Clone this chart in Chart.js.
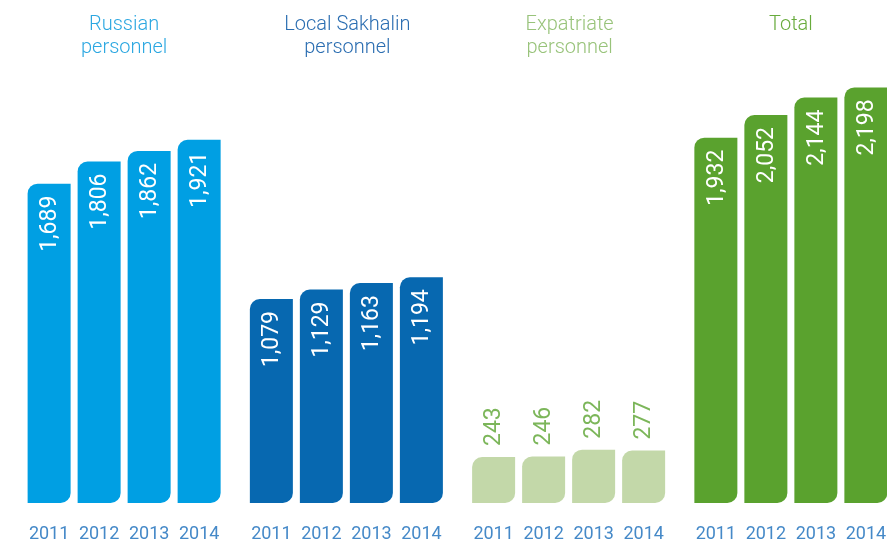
<!DOCTYPE html>
<html lang="en">
<head>
    <meta charset="UTF-8">
    <title>Personnel by category</title>
    <script src="https://cdn.jsdelivr.net/npm/chart.js@4/dist/chart.umd.min.js"></script>
    <style>
        html, body {
            margin: 0;
            padding: 0;
            background: #fff;
            overflow: hidden;
        }
        .chart-box {
            width: 902px;
            height: 546px;
        }
    </style>
</head>
<body>
    <div class="chart-box">
        <canvas id="staffChart" width="902" height="546"></canvas>
    </div>

    <script>
        // data
        const groups = ['Russian personnel', 'Local Sakhalin personnel', 'Expatriate personnel', 'Total'];
        const groupTitles = [['Russian', 'personnel'], ['Local Sakhalin', 'personnel'], ['Expatriate', 'personnel'], ['Total']];
        const years = ['2011', '2012', '2013', '2014'];
        const russian = [1689, 1806, 1862, 1921];
        const localSakhalin = [1079, 1129, 1163, 1194];
        const expatriate = [243, 246, 282, 277];
        const total = [1932, 2052, 2144, 2198];

        const barColors = ['#009fe3', '#0768b0', '#c3d8a9', '#5aa22e'];
        const titleColors = ['#2ba7e1', '#2a6db1', '#98c37a', '#68ab3c'];

        const series = [russian, localSakhalin, expatriate, total];

        // one dataset per year, one category per group
        const datasets = years.map((yr, i) => ({
            label: yr,
            data: series.map(s => s[i]),
            backgroundColor: ctx => barColors[ctx.dataIndex],
            borderRadius: { topLeft: 10, bottomRight: 10, topRight: 0, bottomLeft: 0 },
            borderSkipped: false,
            categoryPercentage: 0.9,
            barPercentage: 0.86
        }));

        const labelPlugin = {
            id: 'labels',
            afterDatasetsDraw(chart) {
                const ctx = chart.ctx;
                const x = chart.scales.x;
                ctx.save();

                // group titles
                ctx.textAlign = 'center';
                ctx.textBaseline = 'middle';
                ctx.font = '300 20px Roboto';
                groupTitles.forEach((lines, g) => {
                    ctx.fillStyle = titleColors[g];
                    const cx = x.getPixelForValue(g) + (g === 1 || g === 2 ? 1 : 0);
                    lines.forEach((line, k) => ctx.fillText(line, cx, 25 + k * 23));
                });

                chart.data.datasets.forEach((ds, i) => {
                    const meta = chart.getDatasetMeta(i);
                    meta.data.forEach((bar, g) => {
                        // year under bar
                        ctx.fillStyle = '#4589c8';
                        ctx.font = '400 18px Roboto';
                        ctx.textAlign = 'center';
                        ctx.textBaseline = 'middle';
                        ctx.fillText(years[i], bar.x, 534);

                        // value, rotated
                        const txt = ds.data[g].toLocaleString('en-US');
                        ctx.save();
                        ctx.font = '400 23px Roboto';
                        ctx.textBaseline = 'middle';
                        if (g === 2) {
                            ctx.translate(bar.x, bar.y - 11);
                            ctx.rotate(-Math.PI / 2);
                            ctx.textAlign = 'left';
                            ctx.fillStyle = '#7cb65a';
                        } else {
                            ctx.translate(bar.x, bar.y + 12);
                            ctx.rotate(-Math.PI / 2);
                            ctx.textAlign = 'right';
                            ctx.fillStyle = '#ffffff';
                        }
                        ctx.fillText(txt, 0, 1);
                        ctx.restore();
                    });
                });
                ctx.restore();
            }
        };

        new Chart(document.getElementById('staffChart'), {
            type: 'bar',
            data: {
                labels: groups,
                datasets: datasets
            },
            options: {
                responsive: false,
                devicePixelRatio: 1,
                animation: false,
                layout: {
                    padding: { left: 13, right: 0, top: 87, bottom: 43 }
                },
                plugins: {
                    legend: { display: false },
                    tooltip: { enabled: false }
                },
                scales: {
                    x: { display: false },
                    y: { display: false, min: 0, max: 2200 }
                }
            },
            plugins: [labelPlugin]
        });
    </script>
</body>
</html>
